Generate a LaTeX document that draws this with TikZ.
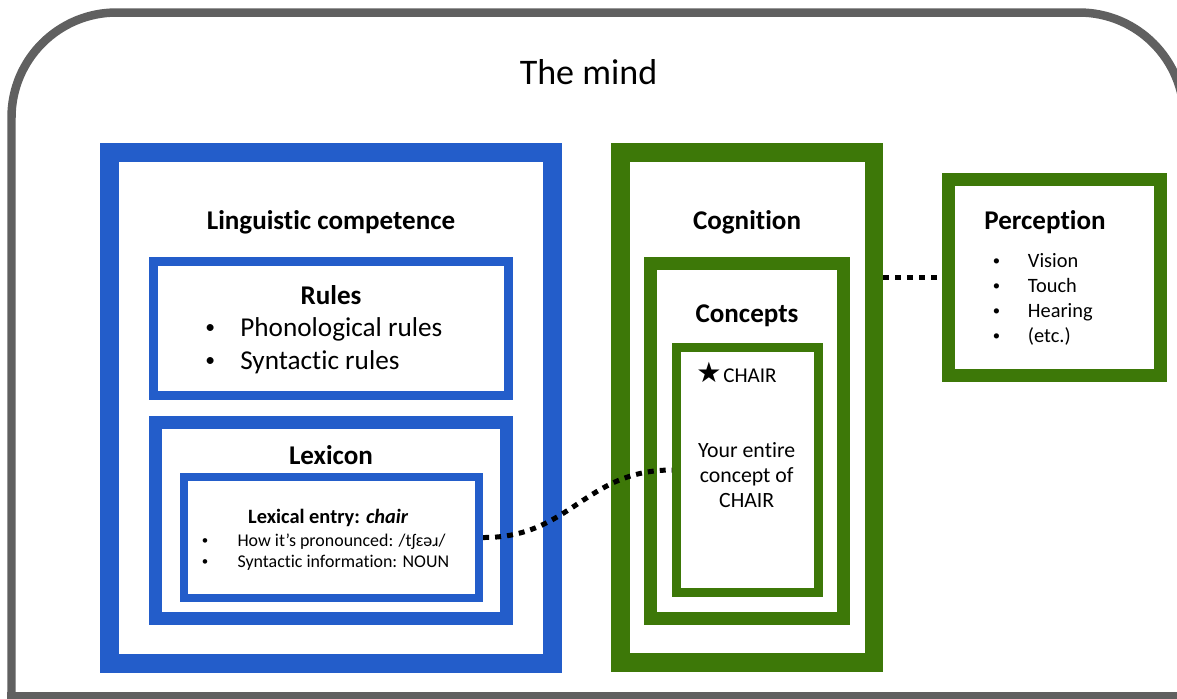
\documentclass[tikz,border=0pt]{standalone}
\usepackage{fontspec}
\setmainfont{Carlito}[Ligatures=NoCommon]
\newfontfamily\symfont{DejaVu Sans}
\usetikzlibrary{positioning, calc}
\definecolor{mindgray}{RGB}{96,96,96}
\definecolor{langblue}{RGB}{35,93,202}
\definecolor{cogngreen}{RGB}{61,120,8}
% small bullet in a box of fixed width
\newcommand{\bl}[1]{\makebox[#1][l]{\raisebox{0.1em}{\scalebox{0.72}{\textbullet}}}}

\begin{document}
\begin{tikzpicture}[
    x=0.02cm, y=-0.02cm,
    frame/.style={draw=mindgray, line width=0.17cm, line cap=rect},
    langbox/.style={rectangle, draw=langblue, fill=white, inner sep=0pt},
    cogbox/.style={rectangle, draw=cogngreen, fill=white, inner sep=0pt},
    head/.style={font=\fontsize{15.4}{18}\selectfont\bfseries, anchor=base, inner sep=0pt},
    plain/.style={inner sep=0pt, anchor=base west},
    link/.style={line width=0.1cm, dash pattern=on 0.12cm off 0.12cm, black},
]
    \useasboundingbox (0,0) rectangle (1177,698);
    \clip (0,0) rectangle (1177,698);

    % The mind
    \draw[frame, rounded corners=2.1cm] (11.5,696.5) -- (11.5,12.5) -- (1184,12.5) -- (1184,696.5);
    \draw[frame] (11.5,696.5) -- (1184,696.5);
    \node[inner sep=0pt, anchor=base, font=\fontsize{20.5}{24}\selectfont] (mind) at (588.5,84) {The mind};

    % Linguistic competence
    \node[langbox, line width=0.38cm, minimum width=8.86cm, minimum height=10.22cm] (comp) at (331,408) {};
    \node[head] (comptitle) at (331,229) {Linguistic competence};

    % Rules
    \node[langbox, line width=0.174cm, minimum width=7.106cm, minimum height=2.686cm] (rules) at (331,328.5) {};
    \node[head] (rulestitle) at (331,304) {Rules};
    \node[plain, font=\fontsize{15.5}{18.5}\selectfont] (rulelist) at (205,336.7)
        {\begin{tabular}[t]{@{}l@{}}\bl{19.9pt}Phonological rules\\ \bl{19.9pt}Syntactic rules\end{tabular}};

    % Lexicon
    \node[langbox, line width=0.26cm, minimum width=7.02cm, minimum height=3.92cm] (lexicon) at (331,520.5) {};
    \node[head] (lextitle) at (331,464) {Lexicon};

    % Lexical entry
    \node[langbox, line width=0.166cm, minimum width=5.9cm, minimum height=2.42cm] (lexentry) at (331.5,537.5) {};
    \node[inner sep=0pt, anchor=base, font=\fontsize{11.6}{14}\selectfont\bfseries] (entrytitle) at (328.3,523.3)
        {Lexical entry: \textit{chair}};
    \node[plain, font=\fontsize{10.2}{11.7}\selectfont] (entrylist) at (201.5,546.7)
        {\begin{tabular}[t]{@{}l@{}}\bl{20.3pt}How it’s pronounced: /tʃɛəɹ/\\ \bl{20.3pt}Syntactic information: NOUN\end{tabular}};

    % Cognition
    \node[cogbox, line width=0.37cm, minimum width=5.08cm, minimum height=10.21cm] (cog) at (747.25,407.5) {};
    \node[head] (cogtitle) at (747,229.3) {Cognition};

    % Concepts
    \node[cogbox, line width=0.25cm, minimum width=3.87cm, minimum height=7.11cm] (concepts) at (747,441) {};
    \node[head] (conctitle) at (747,322.7) {Concepts};

    % CHAIR
    \node[cogbox, line width=0.18cm, minimum width=2.84cm, minimum height=4.9cm] (chair) at (747.5,470) {};
    \node[plain, font=\fontsize{12}{14}\selectfont] (star) at (696,382.5)
        {{\symfont\fontsize{16}{16}\selectfont ★}\kern1pt CHAIR};
    \node[inner sep=0pt, anchor=base, font=\fontsize{12.4}{14.2}\selectfont] (chairtext) at (746.7,457.7)
        {\begin{tabular}[t]{@{}c@{}}Your entire\\ concept of\\ CHAIR\end{tabular}};

    % Perception
    \node[cogbox, line width=0.26cm, minimum width=4.24cm, minimum height=3.92cm] (perc) at (1054.5,277.5) {};
    \node[head] (perctitle) at (1045,229) {Perception};
    \node[plain, font=\fontsize{11.6}{14.2}\selectfont] (senses) at (992.5,267.3)
        {\begin{tabular}[t]{@{}l@{}}\bl{20pt}Vision\\ \bl{20pt}Touch\\ \bl{20pt}Hearing\\ \bl{20pt}(etc.)\end{tabular}};

    % Links
    \draw[link] (cog.east |- perc.west) -- (perc.west);
    \draw[link] (lexentry.east) .. controls (570,538) and (585,470) .. (chair.west);

\end{tikzpicture}
\end{document}
